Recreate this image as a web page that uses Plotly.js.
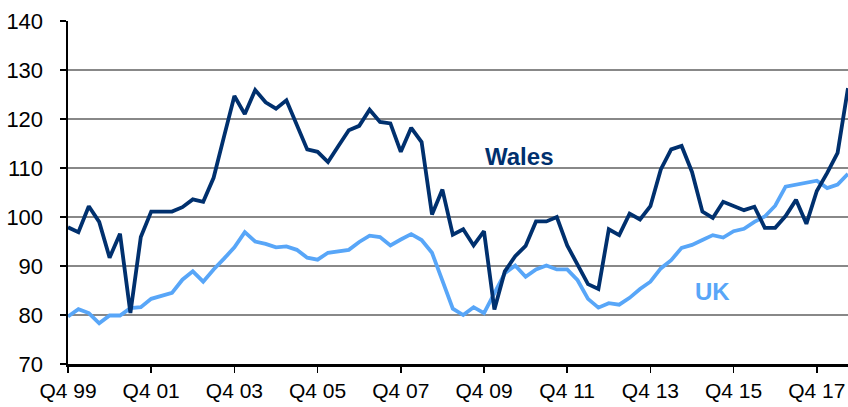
<!DOCTYPE html>
<html>
<head>
<meta charset="utf-8">
<script src="https://cdn.plot.ly/plotly-3.0.1.min.js"></script>
<style>
html,body{margin:0;padding:0;background:#fff;}
#chart{width:848px;height:407px;}
</style>
</head>
<body>
<div id="chart"></div>
<script>
var quarters = [
 "Q4 99",
 "Q1 00","Q2 00","Q3 00","Q4 00",
 "Q1 01","Q2 01","Q3 01","Q4 01",
 "Q1 02","Q2 02","Q3 02","Q4 02",
 "Q1 03","Q2 03","Q3 03","Q4 03",
 "Q1 04","Q2 04","Q3 04","Q4 04",
 "Q1 05","Q2 05","Q3 05","Q4 05",
 "Q1 06","Q2 06","Q3 06","Q4 06",
 "Q1 07","Q2 07","Q3 07","Q4 07",
 "Q1 08","Q2 08","Q3 08","Q4 08",
 "Q1 09","Q2 09","Q3 09","Q4 09",
 "Q1 10","Q2 10","Q3 10","Q4 10",
 "Q1 11","Q2 11","Q3 11","Q4 11",
 "Q1 12","Q2 12","Q3 12","Q4 12",
 "Q1 13","Q2 13","Q3 13","Q4 13",
 "Q1 14","Q2 14","Q3 14","Q4 14",
 "Q1 15","Q2 15","Q3 15","Q4 15",
 "Q1 16","Q2 16","Q3 16","Q4 16",
 "Q1 17","Q2 17","Q3 17","Q4 17",
 "Q1 18","Q2 18","Q3 18"
];

var wales = [
 97.9, 96.9,102.2, 99.0, 91.7, 96.6, 80.4, 95.9,101.1,101.1,
101.1,102.0,103.6,103.1,108.0,116.4,124.7,121.0,125.9,123.4,
122.1,123.8,118.7,113.8,113.3,111.2,114.5,117.7,118.6,121.9,
119.4,119.1,113.3,118.2,115.3,100.5,105.6, 96.4, 97.5, 94.2,
 97.1, 81.1, 88.9, 92.0, 94.1, 99.1, 99.1,100.0, 94.2, 90.3,
 86.3, 85.3, 97.5, 96.3,100.7, 99.5,102.2,109.7,113.8,114.5,
109.2,101.1, 99.8,103.1,102.2,101.4,102.1, 97.8, 97.8,100.2,
103.5, 98.6,105.3,109.0,113.1,126.3
];

var uk = [
 79.7, 81.2, 80.4, 78.3, 79.9, 79.9, 81.4, 81.6, 83.3, 84.0,
 84.5, 87.2, 88.9, 86.8, 89.3, 91.5, 93.8, 96.9, 95.0, 94.5,
 93.8, 94.0, 93.3, 91.7, 91.3, 92.7, 93.0, 93.3, 94.9, 96.2,
 95.9, 94.2, 95.4, 96.5, 95.3, 92.7, 87.0, 81.3, 80.0, 81.6,
 80.4, 84.5, 88.5, 90.1, 87.8, 89.3, 90.1, 89.3, 89.3, 87.1,
 83.3, 81.5, 82.4, 82.1, 83.5, 85.3, 86.8, 89.5, 91.2, 93.7,
 94.3, 95.3, 96.3, 95.8, 97.1, 97.6, 99.0,100.1,102.3,106.2,
106.6,107.0,107.4,105.9,106.6,108.8
];

var tickLabels = ["Q4 99","Q4 01","Q4 03","Q4 05","Q4 07","Q4 09","Q4 11","Q4 13","Q4 15","Q4 17"];
var yTicks = [70,80,90,100,110,120,130,140];

var seriesNames = ["Wales","UK"];
var navy = "#00306e";
var light = "#58a6f8";

var traces = [
 {x: quarters, y: uk, type: "scatter", mode: "lines", name: seriesNames[1],
  line: {color: light, width: 3.8}, hoverinfo: "skip"},
 {x: quarters, y: wales, type: "scatter", mode: "lines", name: seriesNames[0],
  line: {color: navy, width: 3.8}, hoverinfo: "skip"}
];

var layout = {
 width: 848, height: 407,
 margin: {l: 68, r: 0, t: 21, b: 43, pad: 0},
 paper_bgcolor: "#fff", plot_bgcolor: "#fff",
 showlegend: false,
 font: {family: "Liberation Sans, Arial, sans-serif", color: "#000"},
 xaxis: {
  type: "category", categoryorder: "array", categoryarray: quarters,
  range: [0, 75],
  tickmode: "array", tickvals: tickLabels, ticktext: tickLabels,
  ticks: "outside", ticklen: 6, tickwidth: 1.5, tickcolor: "#000",
  showgrid: false, zeroline: false,
  showline: true, linecolor: "#000", linewidth: 2.5,
  tickfont: {size: 21, family: "Liberation Sans, Arial, sans-serif", color: "#000"},
  fixedrange: true
 },
 yaxis: {
  range: [70, 140],
  tickmode: "array", tickvals: yTicks, ticktext: yTicks.map(String),
  ticks: "outside", ticklen: 6, tickwidth: 1.5, tickcolor: "#000",
  ticklabelstandoff: 12,
  showgrid: true, gridcolor: "#888888", gridwidth: 2,
  zeroline: false,
  showline: true, linecolor: "#000", linewidth: 2.5,
  tickfont: {size: 22, family: "Liberation Sans, Arial, sans-serif", color: "#000"},
  fixedrange: true
 },
 annotations: [
  {x: 43.4, y: 112.3, xref: "x", yref: "y", text: "<b>" + seriesNames[0] + "</b>",
   showarrow: false, font: {size: 24, color: navy, family: "Liberation Sans, Arial, sans-serif"},
   xanchor: "center", yanchor: "middle"},
  {x: 62.0, y: 84.8, xref: "x", yref: "y", text: "<b>" + seriesNames[1] + "</b>",
   showarrow: false, font: {size: 24, color: light, family: "Liberation Sans, Arial, sans-serif"},
   xanchor: "center", yanchor: "middle"}
 ]
};

Plotly.newPlot("chart", traces, layout, {displayModeBar: false, staticPlot: true});
</script>
</body>
</html>
